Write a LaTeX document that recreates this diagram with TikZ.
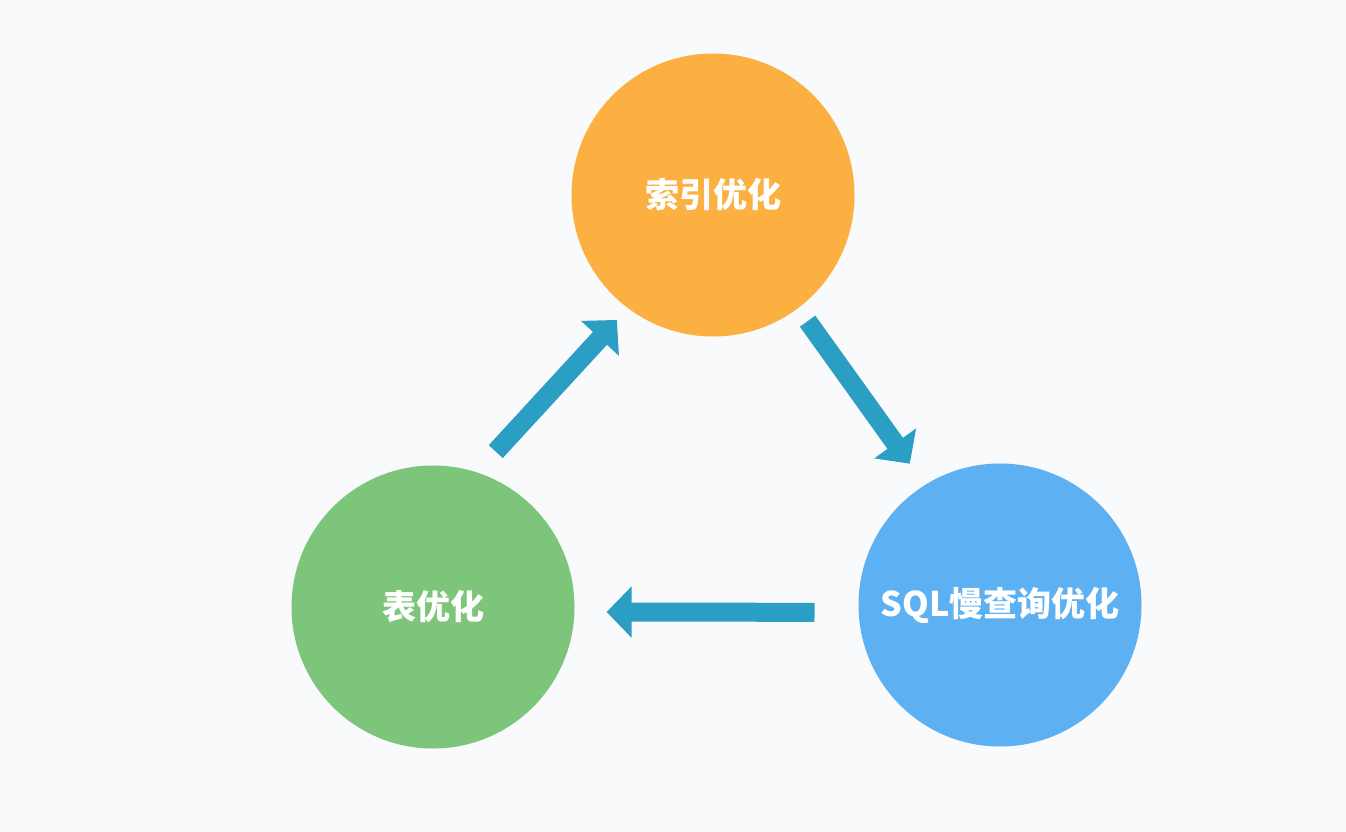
\documentclass[tikz,border=0pt]{standalone}
\usepackage{fontspec}
\newfontfamily\cjk{Noto Sans CJK SC}
\usetikzlibrary{positioning}
\usetikzlibrary{arrows.meta}
\usepackage{xcolor}
\definecolor{bgcol}{HTML}{F9FAFB}
\definecolor{idxcol}{HTML}{FBB041}
\definecolor{tabcol}{HTML}{7DC57B}
\definecolor{sqlcol}{HTML}{5DB1F3}
\definecolor{flowcol}{HTML}{2B9EC4}

\begin{document}
\begin{tikzpicture}[x=1pt, y=-1pt,
  stage/.style = {circle, minimum size=283pt, inner sep=0pt, text=white, font=\cjk\bfseries\fontsize{34}{34}\selectfont},
  flow/.style = {draw=flowcol, line width=19pt, -{Triangle[length=25pt, width=50pt]}}]
\fill[bgcol] (0,0) rectangle (1346,832);
\useasboundingbox (0,0) rectangle (1346,832);
\node[stage, fill=idxcol] (index) at (713,195) {索引优化};
\node[stage, fill=tabcol] (table) at (433,607) {表优化};
\node[stage, fill=sqlcol] (sql) at (1000,605) {SQL慢查询优化};
\draw[flow, shorten <=28pt, shorten >=16pt] (table.72.7) -- (index.233.1);
\draw[flow, shorten <=16pt, shorten >=26pt] (index.-53) -- (sql.122);
\draw[flow, shorten <=44pt, shorten >=32pt] (sql.183) -- (table.358);
\end{tikzpicture}
\end{document}
